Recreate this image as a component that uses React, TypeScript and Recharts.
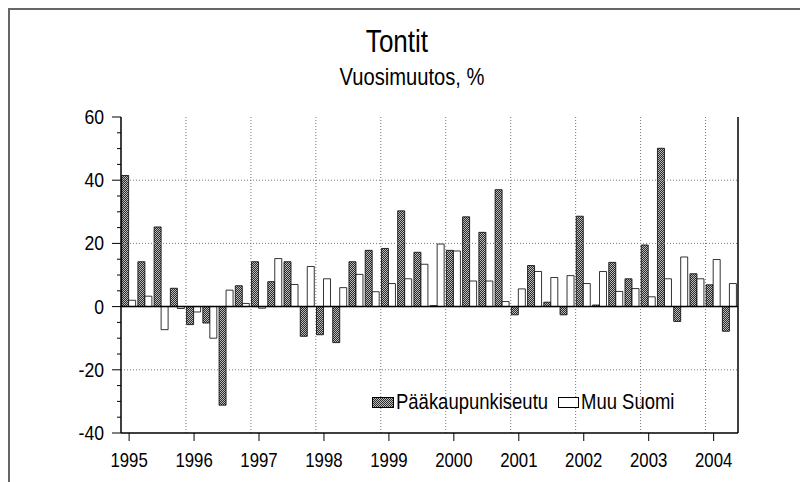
import React from "react";
import {
  BarChart,
  Bar,
  XAxis,
  YAxis,
  CartesianGrid,
  ReferenceLine,
} from "recharts";

const years = ["1995", "1996", "1997", "1998", "1999", "2000", "2001", "2002", "2003", "2004"];
const quarters = years.flatMap((y) => [1, 2, 3, 4].map((q) => `${y}Q${q}`)).slice(0, 38);

// Pääkaupunkiseutu, vuosimuutos %
const paakaupunkiseutu = [
  41.5, 14.2, 25.2, 5.8,
  -5.7, -5.2, -31.2, 6.6,
  14.2, 7.9, 14.2, -9.4,
  -8.9, -11.4, 14.2, 17.8,
  18.4, 30.3, 17.2, 0.3,
  17.8, 28.4, 23.5, 37.0,
  -2.6, 13.0, 1.4, -2.6,
  28.6, 0.5, 14.0, 8.8,
  19.5, 50.1, -4.7, 10.4,
  6.9, -7.8,
];

// Muu Suomi, vuosimuutos %
const muuSuomi = [
  2.0, 3.3, -7.3, -0.6,
  -1.7, -10.0, 5.2, 1.0,
  -0.5, 15.2, 7.0, 12.7,
  8.8, 6.0, 10.2, 4.7,
  7.3, 8.8, 13.4, 19.8,
  17.6, 8.1, 8.1, 1.6,
  5.6, 11.1, 9.2, 9.8,
  7.3, 11.1, 4.8, 5.7,
  3.1, 8.8, 15.7, 8.8,
  14.9, 7.3,
];

const yTicks = [-40, -35, -30, -25, -20, -15, -10, -5, 0, 5, 10, 15, 20, 25, 30, 35, 40, 45, 50, 55, 60];
const yMajor = [-40, -20, 0, 20, 40, 60];
const gridValues = [40, 20, -20];
const yearTicks = years.map((y) => `${y}Q1`);

const data = quarters.map((q, i) => ({
  q,
  paak: paakaupunkiseutu[i],
  muu: muuSuomi[i],
}));

const FONT = "'Liberation Sans', Arial, sans-serif";
const NARROW = 0.84;

function YTick({ x, y, payload }: any) {
  const major = yMajor.includes(payload.value);
  return (
    <g>
      <line x1={x - (major ? 9 : 4)} x2={x} y1={y} y2={y} stroke="#000" strokeWidth={1} />
      {major && (
        <text
          transform={`translate(${x - 17},${y + 7}) scale(${NARROW},1)`}
          textAnchor="end"
          fontSize={21}
          fontFamily={FONT}
          fill="#000"
        >
          {payload.value}
        </text>
      )}
    </g>
  );
}

function XTick({ x, y, payload }: any) {
  return (
    <g>
      <line x1={x} x2={x} y1={y} y2={y + 8} stroke="#000" strokeWidth={1} />
      <text
        transform={`translate(${x},${y + 34}) scale(${NARROW},1)`}
        textAnchor="middle"
        fontSize={20}
        fontFamily={FONT}
        fill="#000"
      >
        {String(payload.value).slice(0, 4)}
      </text>
    </g>
  );
}

const narrowText: React.CSSProperties = {
  display: "inline-block",
  transform: `scaleX(${NARROW})`,
  transformOrigin: "left center",
  whiteSpace: "nowrap",
};

export default function App() {
  return (
    <div style={{ position: "absolute", left: 0, top: 0, width: 800, height: 482, background: "#fff", overflow: "hidden" }}>
      <div style={{ position: "absolute", left: 9, top: 8, width: 800, height: 2, background: "#666" }} />
      <div style={{ position: "absolute", left: 8, top: 8, width: 2, height: 482, background: "#666" }} />
      <div
        style={{
          position: "absolute",
          left: 297,
          width: 200,
          top: 24,
          textAlign: "center",
          fontFamily: FONT,
          fontSize: 31,
          lineHeight: "36px",
          color: "#000",
          transform: `scaleX(${NARROW})`,
        }}
      >
        Tontit
      </div>
      <div
        style={{
          position: "absolute",
          left: 312,
          width: 200,
          top: 63,
          textAlign: "center",
          fontFamily: FONT,
          fontSize: 24,
          lineHeight: "28px",
          color: "#000",
          transform: `scaleX(${NARROW})`,
        }}
      >
        Vuosimuutos, %
      </div>
      <div style={{ position: "absolute", left: 0, top: 0 }}>
        <BarChart
          width={800}
          height={482}
          data={data}
          margin={{ top: 117, right: 61, left: 61, bottom: 19 }}
          barCategoryGap="4%"
          barGap={0}
        >
          <defs>
            <pattern id="dots" width={2} height={2} patternUnits="userSpaceOnUse">
              <rect width={2} height={2} fill="#2a2a2a" />
              <rect x={0} y={0} width={1} height={1} fill="#bcbcbc" />
              <rect x={1} y={1} width={1} height={1} fill="#bcbcbc" />
            </pattern>
          </defs>
          <CartesianGrid
            horizontal={false}
            stroke="#777"
            strokeDasharray="1 2"
            verticalCoordinatesGenerator={({ offset }: any) =>
              years.slice(1).map((_, i) => offset.left + (offset.width * (i + 1) * 4) / quarters.length)
            }
          />
          {gridValues.map((v) => (
            <ReferenceLine key={v} y={v} stroke="#777" strokeDasharray="1 2" />
          ))}
          <XAxis
            dataKey="q"
            ticks={yearTicks}
            interval={0}
            tick={<XTick />}
            tickLine={false}
            tickSize={0}
            tickMargin={0}
            height={30}
            axisLine={{ stroke: "#000", strokeWidth: 1.5 }}
          />
          <XAxis xAxisId="top" orientation="top" dataKey="q" tick={false} tickLine={false} height={0} axisLine={{ stroke: "#000", strokeWidth: 1.5 }} />
          <YAxis
            domain={[-40, 60]}
            ticks={yTicks}
            interval={0}
            tick={<YTick />}
            tickLine={false}
            tickSize={0}
            tickMargin={0}
            width={60}
            allowDataOverflow
            axisLine={{ stroke: "#000", strokeWidth: 1.5 }}
          />
          <YAxis yAxisId="right" orientation="right" domain={[-40, 60]} tick={false} tickLine={false} width={1} axisLine={{ stroke: "#000", strokeWidth: 1.5 }} />
          <Bar dataKey="paak" fill="url(#dots)" stroke="#000" strokeWidth={0.8} isAnimationActive={false} />
          <Bar dataKey="muu" fill="#fff" stroke="#000" strokeWidth={0.8} isAnimationActive={false} />
          <ReferenceLine y={0} stroke="#000" strokeWidth={1.5} />
        </BarChart>
      </div>
      <div
        style={{
          position: "absolute",
          left: 372,
          top: 391,
          display: "flex",
          alignItems: "center",
          fontFamily: FONT,
          fontSize: 22,
          lineHeight: "22px",
          color: "#000",
        }}
      >
        <svg width={22} height={11} style={{ marginRight: 2 }}>
          <rect x={0.5} y={0.5} width={21} height={10} fill="url(#dots)" stroke="#000" />
        </svg>
        <span style={{ ...narrowText, width: 162 }}>Pääkaupunkiseutu</span>
        <svg width={21} height={11} style={{ marginLeft: 0, marginRight: 2 }}>
          <rect x={0.5} y={0.5} width={20} height={10} fill="#fff" stroke="#000" />
        </svg>
        <span style={{ ...narrowText }}>Muu Suomi</span>
      </div>
    </div>
  );
}
